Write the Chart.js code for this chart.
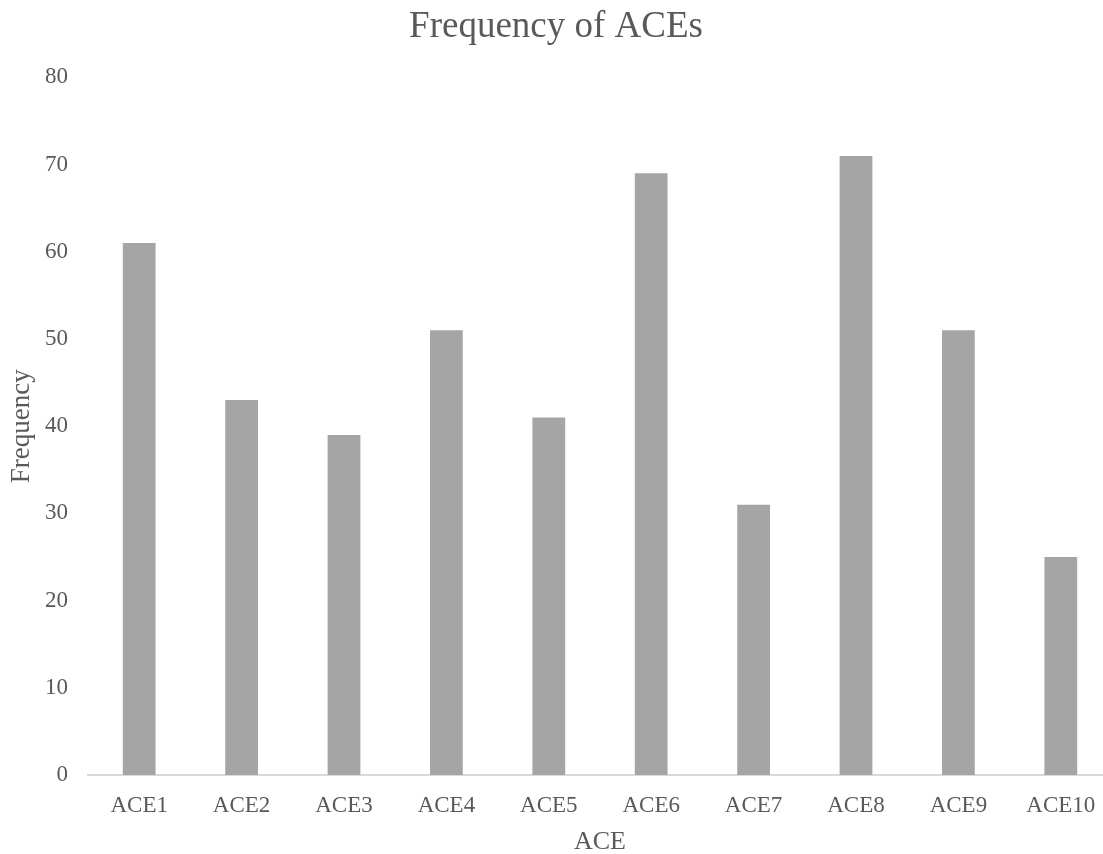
<!DOCTYPE html>
<html>
<head>
<meta charset="utf-8">
<script src="https://cdn.jsdelivr.net/npm/chart.js@4"></script>
<style>
  html, body { margin: 0; padding: 0; background: #fff; overflow: hidden; }
  /* the original plot runs a few px past the right edge, so the canvas is
     a bit wider than the window and gets cropped */
  #wrap { width: 1103px; height: 854px; overflow: hidden; }
</style>
</head>
<body>
<div id="wrap"><canvas id="aceChart" width="1112" height="854"></canvas></div>
<script>
// Chart data
const categories = ['ACE1', 'ACE2', 'ACE3', 'ACE4', 'ACE5', 'ACE6', 'ACE7', 'ACE8', 'ACE9', 'ACE10'];
const frequencies = [61, 43, 39, 51, 41, 69, 31, 71, 51, 25];
const yTicks = [0, 10, 20, 30, 40, 50, 60, 70, 80];

const serif = "'Liberation Serif', 'Times New Roman', serif";
const textColor = '#595959';

const ctx = document.getElementById('aceChart').getContext('2d');
new Chart(ctx, {
    type: 'bar',
    data: {
        labels: categories,
        datasets: [{
            label: 'Frequency',
            data: frequencies,
            backgroundColor: '#a5a5a5',
            barPercentage: 0.32,
            categoryPercentage: 1.0
        }]
    },
    options: {
        responsive: false,
        animation: false,
        layout: { padding: 0 },
        plugins: {
            legend: { display: false },
            tooltip: { enabled: false },
            title: {
                display: true,
                text: 'Frequency of ACEs',
                color: textColor,
                font: { family: serif, size: 37, weight: 'normal' },
                padding: { top: 5, bottom: 28 }
            }
        },
        scales: {
            x: {
                grid: { display: false, drawTicks: false },
                border: { display: true, color: '#d9d9d9', width: 2 },
                ticks: {
                    color: textColor,
                    font: { family: serif, size: 23 },
                    padding: 17
                },
                title: {
                    display: true,
                    text: 'ACE',
                    color: textColor,
                    font: { family: serif, size: 26 },
                    padding: { top: 0, bottom: -4 }
                },
                afterFit: scale => {
                    scale.height = 79;
                    // don't let the last label push the plot inward
                    scale.paddingLeft = 0;
                    scale.paddingRight = 0;
                }
            },
            y: {
                min: 0,
                max: 80,
                afterBuildTicks: scale => { scale.ticks = yTicks.map(v => ({ value: v })); },
                grid: { display: false, drawTicks: false },
                border: { display: false },
                ticks: {
                    color: textColor,
                    font: { family: serif, size: 23 },
                    padding: 20
                },
                title: {
                    display: true,
                    text: 'Frequency',
                    color: textColor,
                    font: { family: serif, size: 27 },
                    padding: { top: 6, bottom: 0 }
                },
                afterFit: scale => { scale.width = 88; }
            }
        }
    }
});
</script>
</body>
</html>
